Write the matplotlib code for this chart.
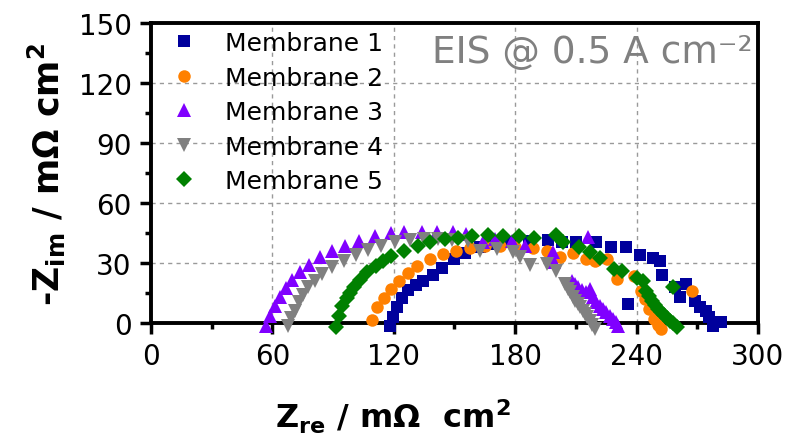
import matplotlib
matplotlib.use("Agg")
import matplotlib.pyplot as plt
from matplotlib.ticker import MultipleLocator

plt.rcParams["font.family"] = ["DejaVu Sans"]
plt.rcParams["mathtext.default"] = "regular"

# Nyquist data (Z_re, -Z_im) in mOhm cm^2
m1_x = [118.0, 119.5, 121.5, 124.0, 127.0, 131.0, 134.5, 139.5, 144.0, 150.0, 155.0, 162.5,
        170.0, 178.0, 187.0, 196.0, 203.0, 210.0, 220.0, 227.5, 235.0, 241.5, 248.0, 251.5,
        252.5, 259.0, 264.5, 261.5, 236.0, 269.0, 271.5, 274.5, 276.0, 278.0, 282.0, 278.0]
m1_y = [-1.5, 3.0, 8.0, 12.5, 16.5, 19.0, 21.0, 24.0, 27.5, 32.0, 35.0, 38.0,
        39.5, 40.5, 41.0, 41.5, 40.5, 40.5, 40.5, 38.0, 38.0, 34.0, 32.5, 31.0,
        24.0, 18.0, 19.5, 13.0, 9.5, 11.0, 8.0, 6.0, 3.0, 0.0, 0.5, -1.5]

m2_x = [109.0, 111.7, 115.3, 118.8, 122.4, 127.0, 131.7, 137.8, 144.4, 150.7, 157.6, 165.0,
        172.4, 179.8, 188.9, 195.5, 202.0, 208.6, 214.8, 219.4, 225.2, 230.5, 238.8, 242.0,
        267.3, 244.0, 246.0, 248.5, 250.5, 252.0]
m2_y = [1.7, 7.8, 12.3, 17.0, 21.2, 25.0, 28.5, 32.0, 34.5, 36.2, 37.3, 38.7,
        38.7, 37.8, 37.3, 36.2, 32.8, 35.2, 32.2, 31.0, 32.2, 22.0, 23.7, 16.0,
        16.2, 12.0, 7.0, 2.0, -1.0, -2.8]

m3_x = [56.7, 58.6, 61.1, 63.6, 66.6, 69.9, 73.5, 78.1, 83.4, 89.2, 96.1, 102.8, 110.6,
        118.5, 125.2, 133.7, 141.4, 149.3, 155.9, 164.2, 170.0, 178.2, 184.8, 198.8, 199.0,
        216.0, 207.9, 209.5, 211.0, 213.0, 215.0, 217.0, 218.6, 220.0, 222.0, 223.5, 225.0,
        226.8, 228.5, 230.0, 231.0]
m3_y = [-1.5, 3.7, 8.3, 12.8, 17.3, 21.5, 25.3, 29.2, 32.8, 35.8, 38.7, 41.2, 43.3,
        44.8, 45.7, 45.7, 45.7, 45.5, 44.5, 40.5, 42.0, 41.0, 38.7, 35.5, 30.5,
        43.0, 21.0, 19.5, 17.8, 16.5, 15.5, 17.0, 12.8, 10.5, 8.7, 7.0, 5.5,
        3.7, 2.0, 0.5, -1.3]

m4_x = [67.7, 69.4, 71.0, 73.1, 75.1, 77.6, 80.9, 84.7, 89.2, 95.4, 101.5, 107.3, 113.9,
        120.5, 127.9, 135.0, 142.0, 149.0, 156.7, 162.5, 170.8, 179.0, 182.3, 187.2, 195.5,
        200.4, 204.5, 206.0, 207.0, 208.5, 209.5, 211.0, 212.0, 213.5, 214.4, 215.5, 216.9,
        218.0, 219.4]
m4_y = [-1.3, 2.3, 6.2, 10.3, 14.0, 17.8, 21.2, 24.5, 27.8, 31.2, 34.0, 36.7, 38.7,
        40.7, 41.7, 42.0, 42.0, 41.5, 41.2, 36.2, 37.0, 35.3, 32.8, 29.0, 29.5,
        26.2, 19.5, 17.0, 15.3, 13.0, 11.2, 9.5, 7.8, 6.0, 4.5, 3.0, 1.2,
        -1.0, -3.0]

m5_x = [91.3, 92.9, 94.6, 96.9, 98.5, 100.2, 103.2, 106.8, 111.1, 114.5, 118.8, 124.9, 132.0,
        138.1, 145.5, 151.8, 158.9, 166.6, 174.0, 182.0, 189.2, 200.0, 203.7, 211.6, 216.9,
        222.0, 228.8, 233.0, 240.0, 243.3, 258.1, 244.5, 246.0, 247.5, 249.0, 250.5, 252.0,
        253.5, 255.0, 256.5, 258.0, 259.8]
m5_y = [-2.0, 3.3, 8.3, 12.3, 15.0, 17.8, 21.7, 25.3, 28.7, 31.0, 33.7, 36.2, 38.7,
        40.3, 42.0, 42.3, 43.7, 44.0, 43.7, 43.7, 42.5, 44.0, 40.7, 37.8, 35.3,
        32.3, 27.0, 26.2, 22.5, 21.2, 18.2, 16.0, 13.5, 11.0, 9.0, 7.0, 5.5,
        4.0, 2.5, 1.0, 0.0, -2.0]

labels = ["Membrane 1", "Membrane 2", "Membrane 3", "Membrane 4", "Membrane 5"]
colors = ["#00009C", "#FF8000", "#8000FF", "#808080", "#008000"]
markers = ["s", "o", "^", "v", "D"]
sizes = [8, 9, 9.5, 9.5, 8.5]
series = [(m1_x, m1_y), (m2_x, m2_y), (m3_x, m3_y), (m4_x, m4_y), (m5_x, m5_y)]

fig = plt.figure(figsize=(7.87, 4.39), dpi=100)
ax = fig.add_axes([0.192, 0.262, 0.771, 0.683])

for (xs, ys), lab, c, mk, ms in zip(series, labels, colors, markers, sizes):
    ax.plot(xs, ys, linestyle="none", marker=mk, color=c, markersize=ms,
            markeredgewidth=0, label=lab, clip_on=False, zorder=3)

ax.set_xlim(0, 300)
ax.set_ylim(0, 150)
ax.xaxis.set_major_locator(MultipleLocator(60))
ax.xaxis.set_minor_locator(MultipleLocator(30))
ax.yaxis.set_major_locator(MultipleLocator(30))
ax.yaxis.set_minor_locator(MultipleLocator(15))
ax.tick_params(which="major", length=8, width=2.5, labelsize=20, direction="out", pad=6)
ax.tick_params(which="minor", length=4, width=2.5, direction="out")
ax.tick_params(top=False, right=False)
for sp in ax.spines.values():
    sp.set_linewidth(2.8)

ax.grid(True, which="major", linestyle=(0, (3, 3)), color="#9a9a9a", linewidth=1)
ax.set_axisbelow(True)

ax.set_xlabel("Z$_{\\mathbf{re}}$ / mΩ  cm$^{\\mathbf{2}}$", fontsize=23, fontweight="bold")
ax.xaxis.set_label_coords(0.399, -0.245)
ax.set_ylabel("-Z$_{\\mathbf{im}}$ / mΩ cm$^{\\mathbf{2}}$", fontsize=25, fontweight="bold", labelpad=8)

ax.legend(loc="upper left", frameon=False, fontsize=18, handlelength=1.0,
          handletextpad=1.14, labelspacing=0.42, borderaxespad=0.2,
          bbox_to_anchor=(0.009, 1.023))

ax.text(0.9918, 0.87, "EIS @ 0.5 A cm⁻²", transform=ax.transAxes, ha="right", va="baseline",
        fontsize=27, color="#808080")

fig.savefig("out.png", dpi=100)
